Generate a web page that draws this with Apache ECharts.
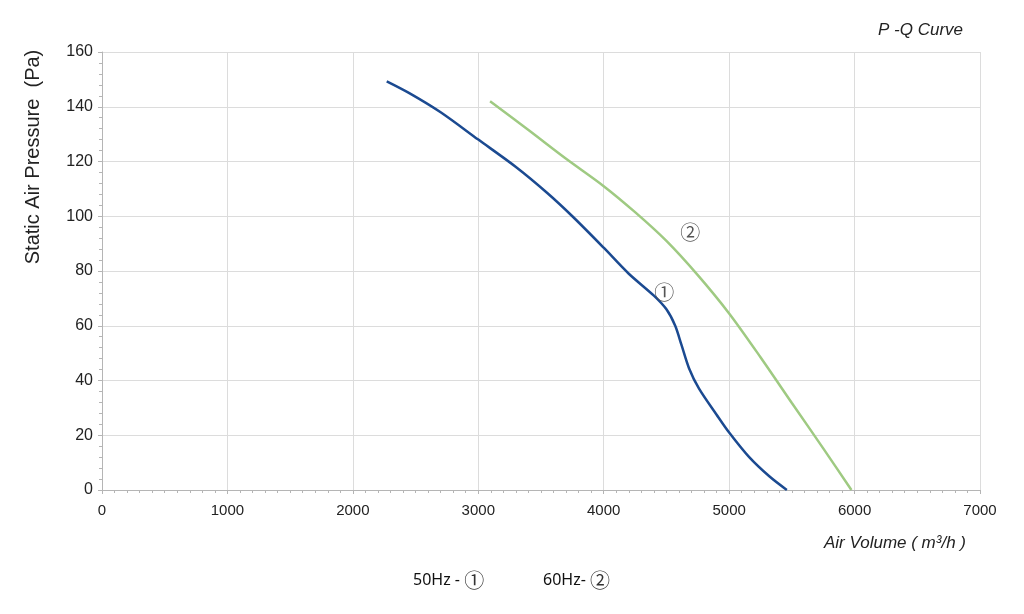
<!DOCTYPE html>
<html>
<head>
<meta charset="utf-8">
<script src="https://cdn.jsdelivr.net/npm/echarts@6/dist/echarts.min.js"></script>
<style>html,body{margin:0;padding:0;background:#fff}#c{width:1024px;height:614px}</style>
</head>
<body>
<div id="c"></div>
<script>
// Air volume (m³/h) and static pressure (Pa)
const curve50Hz = [
  [2270,149.3],[2450,145],[2700,138],[3000,128],[3300,118],[3550,108.5],
  [3750,100],[4000,88.5],[4200,79],[4400,71],[4500,66],[4570,60],
  [4620,53],[4680,44.5],[4760,37],[4900,27.5],[5000,21],[5160,12],
  [5320,5],[5460,0]
];
const curve60Hz = [
  [3094,142],[3400,131.5],[3700,121],[4000,111],[4250,101.5],[4500,91],
  [4750,78.5],[5000,64.5],[5250,48.5],[5500,31.8],[5750,15.2],[5975,0]
];
const curveLabels = [
  {name:'①', coord:[4482,72]},
  {name:'②', coord:[4690,94]}
];
const legendNames = ['50Hz - ', '60Hz- '];
const legendMarks = ['①', '②'];
const titleText = 'P -Q Curve';
const xName = 'Air Volume ( m³/h )';
const yName = 'Static Air Pressure  (Pa)';

const chart = echarts.init(document.getElementById('c'), null, {renderer:'canvas'});
const axisFont = 'Liberation Sans, Arial, sans-serif';
const markLabel = {show:true, formatter:'{b}', color:'#555', fontSize:20, fontFamily:'Noto Sans CJK SC, sans-serif', position:'inside'};
chart.setOption({
  animation:false,
  grid:{left:102, right:44, top:52, bottom:124},
  xAxis:{
    type:'value', min:0, max:7000, interval:1000,
    axisLine:{show:true, lineStyle:{color:'#b5b5b5', width:1}},
    axisTick:{show:true, length:4, lineStyle:{color:'#b5b5b5'}},
    minorTick:{show:true, splitNumber:10, length:3, lineStyle:{color:'#b5b5b5'}},
    splitLine:{show:true, lineStyle:{color:'#dcdcdc', width:1}},
    axisLabel:{color:'#222', fontSize:15, fontFamily:axisFont, margin:13, formatter:(v)=>String(v)}
  },
  yAxis:{
    type:'value', min:0, max:160, interval:20,
    axisLine:{show:true, lineStyle:{color:'#b5b5b5', width:1}},
    axisTick:{show:true, length:4, lineStyle:{color:'#b5b5b5'}},
    minorTick:{show:true, splitNumber:5, length:3, lineStyle:{color:'#b5b5b5'}},
    splitLine:{show:true, lineStyle:{color:'#dcdcdc', width:1}},
    axisLabel:{color:'#222', fontSize:16, fontFamily:axisFont, margin:9}
  },
  series:[
    {
      type:'line', data:curve50Hz, smooth:0.3, symbol:'none',
      lineStyle:{color:'#1b4a91', width:2.5},
      markPoint:{symbol:'circle', symbolSize:0, label:markLabel, data:[curveLabels[0]]}
    },
    {
      type:'line', data:curve60Hz, smooth:0.3, symbol:'none',
      lineStyle:{color:'#9fca82', width:2.5},
      markPoint:{symbol:'circle', symbolSize:0, label:markLabel, data:[curveLabels[1]]}
    }
  ],
  graphic:[
    {type:'text', right:61, top:22, style:{text:titleText, fill:'#222', font:'italic 17px Liberation Sans, Arial, sans-serif'}},
    {type:'text', right:58, top:535, style:{text:xName, fill:'#222', font:'italic 17px Liberation Sans, Arial, sans-serif'}},
    {type:'text', x:33, y:157, rotation:Math.PI/2, style:{text:yName, fill:'#222', font:'20px Liberation Sans, Arial, sans-serif', align:'center', verticalAlign:'middle'}},
    {type:'text', x:413, y:580, style:{
      text:'{a|'+legendNames[0]+'}{b|'+legendMarks[0]+'}', verticalAlign:'middle',
      rich:{a:{fontFamily:'Noto Sans, sans-serif', fontSize:16, fill:'#111'}, b:{fontFamily:'Noto Sans CJK SC, sans-serif', fontSize:20, fill:'#333'}}
    }},
    {type:'text', x:543, y:580, style:{
      text:'{a|'+legendNames[1]+'}{b|'+legendMarks[1]+'}', verticalAlign:'middle',
      rich:{a:{fontFamily:'Noto Sans, sans-serif', fontSize:16, fill:'#111'}, b:{fontFamily:'Noto Sans CJK SC, sans-serif', fontSize:20, fill:'#333'}}
    }}
  ]
});
</script>
</body>
</html>
